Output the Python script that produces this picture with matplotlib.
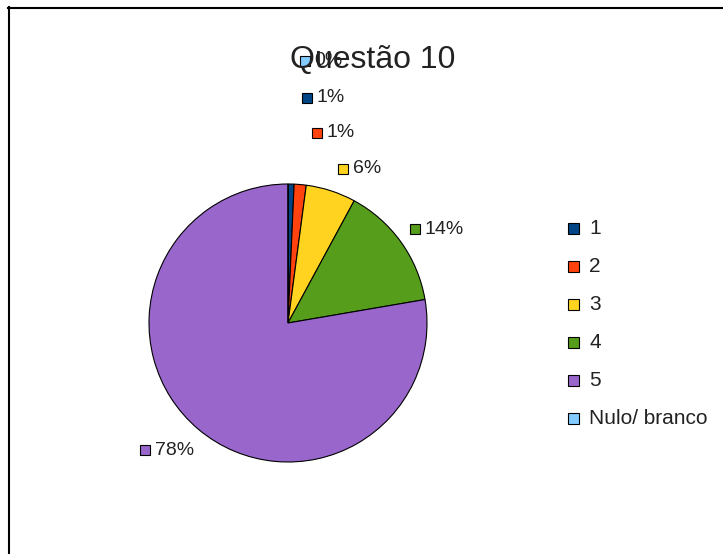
import matplotlib
matplotlib.use("Agg")
import matplotlib.pyplot as plt
from matplotlib.patches import Rectangle
from matplotlib.lines import Line2D

plt.rcParams['font.family'] = ['Liberation Sans', 'DejaVu Sans']

categories = ["1", "2", "3", "4", "5", "Nulo/ branco"]
values = [0.7, 1.4, 5.8, 14.4, 77.7, 0.0]
pct_labels = ["1%", "1%", "6%", "14%", "78%", "0%"]
colors = ["#004586", "#ff420e", "#ffd320", "#579d1c", "#9966cc", "#83caff"]
title = "Questão 10"

# layout (pixel positions of value-label markers, relative to pie centre, in radius units)
label_pos = [(0.137, 1.619), (0.209, 1.367), (0.396, 1.108), (0.914, 0.676),
             (-1.029, -0.914), (0.122, 1.885)]

W, H = 723, 554
fig = plt.figure(figsize=(W / 100, H / 100), dpi=100)

# partial border
fig.add_artist(Line2D([8 / W, 1.0], [1 - 7.5 / H, 1 - 7.5 / H], color="black", lw=1.5))
fig.add_artist(Line2D([8.5 / W, 8.5 / W], [0, 1 - 7 / H], color="black", lw=1.5))

ax = fig.add_axes([149 / W, (H - 462) / H, 278 / W, 278 / H])
ax.pie(values, colors=colors, startangle=90, counterclock=False, radius=1.0,
       wedgeprops=dict(edgecolor="black", linewidth=0.8))
ax.set_xlim(-1, 1)
ax.set_ylim(-1, 1)
ax.set_aspect("auto")
ax.set_xticks([])
ax.set_yticks([])
for s in ax.spines.values():
    s.set_color("#b3b3b3")
    s.set_linewidth(1.0)

# value labels with square keys
for (lx, ly), lab, c in zip(label_pos, pct_labels, colors):
    ax.plot([lx], [ly], marker="s", markersize=6.5, markerfacecolor=c,
            markeredgecolor="black", markeredgewidth=0.8, clip_on=False, zorder=5)
    ax.text(lx + 0.07, ly, lab, fontsize=14, color="#222222", va="center", ha="left",
            clip_on=False, zorder=5)

# title
fig.text(372.5 / W, 1 - 60 / H, title, fontsize=23, color="#222222", ha="center", va="center")

# legend (manual)
for i, (cat, c) in enumerate(zip(categories, colors)):
    y = 228.3 + i * 38.1
    fig.add_artist(Rectangle((568 / W, 1 - (y + 5.5) / H), 11 / W, 11 / H,
                             facecolor=c, edgecolor="black", linewidth=0.8,
                             transform=fig.transFigure))
    fig.text(589 / W, 1 - y / H, cat, fontsize=15, color="#222222", ha="left", va="center")

fig.savefig("out.png", dpi=100)
